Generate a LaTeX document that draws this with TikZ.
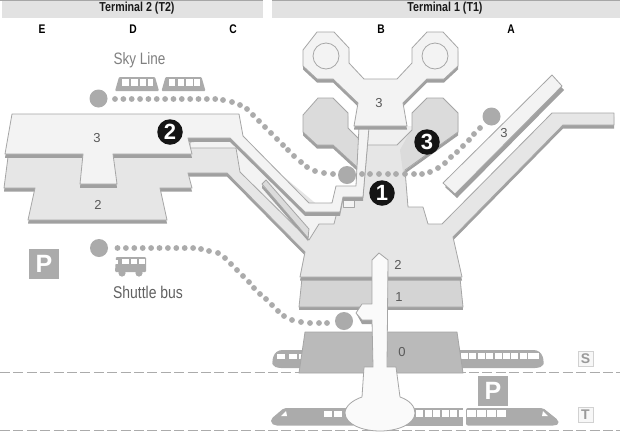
\documentclass[tikz,border=0pt]{standalone}
\usepackage{fontspec}
\setmainfont{Liberation Sans}
\newfontfamily\narrowf[FakeStretch=0.82]{Liberation Sans}
\definecolor{edgec}{HTML}{A6A6A6}
\definecolor{shadowc}{HTML}{A0A0A0}
\definecolor{dotc}{HTML}{ABABAB}
\definecolor{barc}{HTML}{E2E2E2}
\definecolor{lthree}{HTML}{F3F3F3}
\definecolor{ltwo}{HTML}{E6E6E6}
\definecolor{octc}{HTML}{DBDBDB}
\definecolor{lone}{HTML}{D4D4D4}
\definecolor{lzero}{HTML}{BABABA}
\definecolor{trainc}{HTML}{ABABAB}
\tikzset{
  edgeline/.style={draw=edgec,line width=0.8pt,line join=round},
  bar/.style={fill=barc,draw=none},
  gate/.style={font=\narrowf\bfseries\fontsize{12.5}{12.5}\selectfont,text=black,inner sep=0pt},
  head/.style={font=\narrowf\bfseries\fontsize{13}{13}\selectfont,text=black!90,inner sep=0pt},
  lvl/.style={font=\fontsize{13}{13}\selectfont,text=black!65,inner sep=0pt},
  badge/.style={circle,fill=black!92,text=white,minimum size=25.5pt,inner sep=0pt,font=\bfseries\fontsize{22}{22}\selectfont},
  stop/.style={circle,fill=dotc,minimum size=18pt,inner sep=0pt},
  parkbox/.style={fill=dotc,text=white,minimum size=30pt,inner sep=0pt,font=\bfseries\fontsize{25}{25}\selectfont},
  trackbox/.style={fill=black!3,draw=black!18,line width=0.8pt,text=black!40,minimum size=15pt,inner sep=0pt,font=\bfseries\fontsize{14}{14}\selectfont},
  trackline/.style={draw=dotc,line width=1pt,dash pattern=on 10pt off 3.4pt},
  win/.style={fill=white,draw=none},
}
\def\LevelThree{(12,114)--(239,114)--(243,136)--(309,203)--(332,203)--(336,186)--(356,186)--(359,127)--(369,127)--(363,197)--(343,197)--(340,212)--(305,212)--(230,138)--(188,138)--(192,154)--(113,154)--(117,184)--(80,184)--(83,154)--(5,154)--cycle}
\def\LevelTwo{(8,157)--(4,188)--(35,188)--(28,220)--(167,220)--(160,188)--(192,188)--(188,173)--(227,173)--(305,252)--(300,277)--(462,277)--(453,237)--(563,125)--(614,125)--(614,113)--(552,113)--(442,224)--(428,224)--(423,207)--(408,207)--(405,170)--(458,132)--(458,113)--(443,98)--(427,98)--(412,113)--(412,128)--(397,145)--(365,145)--(360,190)--(320,207)--(240,140)--(190,145)--cycle}
\def\OctLeft{(303,115)--(318,98)--(333,98)--(348,113)--(348,128)--(362,142)--(358,168)--(333,145)--(317,145)--(303,132)--cycle}
\def\TOne{(303,50)--(317,32)--(334,32)--(349,48)--(349,63)--(364,79)--(397,79)--(412,63)--(412,48)--(427,32)--(443,32)--(458,48)--(458,66)--(444,79)--(427,79)--(403,103)--(407,126)--(354,126)--(358,103)--(333,79)--(317,79)--(303,66)--cycle}
\def\PierA{(552,75)--(562,86)--(455,194)--(443,183)--cycle}
\begin{document}
\begin{tikzpicture}[x=1pt,y=-1pt]
\useasboundingbox (0,0) rectangle (620,437);
\fill[white] (0,0) rectangle (620,437);
% header
\fill[edgec] (0,0) rectangle (620,1.2);
\fill[white] (263,0) rectangle (272,1.2);
\fill[bar] (2,1.2) rectangle (263,18);
\fill[bar] (272,1.2) rectangle (620,18);
\node[head] (t2) at (137,8.5) {Terminal 2 (T2)};
\node[head] (t1) at (445,8.5) {Terminal 1 (T1)};
\node[gate] (gE) at (42,29.5) {E};
\node[gate] (gD) at (133,29.5) {D};
\node[gate] (gC) at (233,29.5) {C};
\node[gate] (gB) at (381,29.5) {B};
\node[gate] (gA) at (511,29.5) {A};
% track lines
\draw[trackline] (0,372) -- (620,372);
\draw[trackline] (0,430) -- (620,430);
% S trains
\fill[trainc,rounded corners=3pt] (310,350)--(279,350)--(274,354)--(272,362)--(273,366)--(278,368)--(310,368)--cycle;
\fill[win] (277,354) rectangle (285,359);
\fill[win] (289,354) rectangle (297,359);
\fill[win] (299,354) rectangle (304,359);
\fill[trainc,rounded corners=3pt] (450,350)--(537,350)--(542,354)--(544,362)--(543,366)--(538,368)--(450,368)--cycle;
\foreach \i in {0,...,8} \fill[win] ({461+8.4*\i},353) rectangle ({468+8.4*\i},359);
\fill[win] (532,353) rectangle (539,359);
% T trains
\fill[trainc,rounded corners=2pt] (355,408)--(284,408)--(271,419)--(271,423)--(275,425.5)--(355,425.5)--cycle;
\fill[win] (281,416)--(286,411)--(287,416)--cycle;
\fill[win] (324,411) rectangle (332,417);
\fill[win] (334,411) rectangle (342,417);
\fill[trainc] (405,408) rectangle (463,425.5);
\foreach \i in {0,...,5} \fill[win] ({416+8.6*\i},410) rectangle ({423+8.6*\i},417);
\fill[trainc,rounded corners=2pt] (466,408)--(543,408)--(558,420)--(559,424)--(555,425.5)--(466,425.5)--cycle;
\foreach \i in {0,...,3} \fill[win] ({467+10*\i},410) rectangle ({475.5+10*\i},417);
\fill[win] (542,416)--(543,411)--(548,416)--cycle;
% level 0
\path[fill=lzero,edgeline] (305,332)--(299,373)--(463,373)--(457,332)--cycle;
% level 1
\fill[shadowc] (299,306) rectangle (463,310);
\path[fill=lone,edgeline] (302,278)--(299,307)--(463,307)--(460,278)--cycle;
% left octagon of level 2
\fill[shadowc,shift={(0,3.5)}] \OctLeft;
\path[fill=octc,edgeline] \OctLeft;
% level 2 with its shadow
\fill[shadowc,shift={(0,3.5)}] \LevelTwo;
\fill[ltwo] \LevelTwo;
\fill[octc] (412,113)--(427,98)--(443,98)--(458,113)--(458,132)--(403,172)--(400,150)--(412,128)--cycle;
\path[fill=black!6,draw=none] (365,126)--(365,145)--(397,145)--(412,130)--(412,126)--cycle;
\draw[edgeline] (367,145)--(397,145)--(412,130)--(412,113)--(427,98)--(443,98)--(458,113)--(458,132)--(405,170)--(408,207)--(423,207)--(428,224)--(442,224)--(552,113)--(614,113)--(614,125)--(563,125)--(453,237)--(462,277);
\draw[edgeline] (8,157)--(4,188)--(35,188)--(28,220)--(167,220)--(160,188)--(192,188)--(188,173)--(227,173)--(305,252)--(300,277)--(462,277);
% lighter walkways below the level 3 corridor
\path[fill=lthree,edgeline] (190,142)--(190,148)--(236,148)--(240,172)--(309,240)--(319,224)--(334,224)--(337,212)--(305,212)--(230,138)--cycle;
\path[fill=lthree,edgeline] (343,196)--(343,207)--(354,207)--(354,196)--cycle;
\fill[shadowc] (262,185)--(309,233)--(308,241)--(262,188)--cycle;
\path[fill=octc,edgeline] (262,184)--(266,180)--(309,229)--(308,238)--cycle;
% level 3 buildings
\fill[shadowc,shift={(0,3.8)}] \LevelThree;
\path[fill=lthree,edgeline] \LevelThree;
\fill[shadowc,shift={(0,3.5)}] \TOne;
\path[fill=lthree,edgeline] \TOne;
\draw[edgeline,fill=none] (326,56) circle (13);
\draw[edgeline,fill=none] (435,56) circle (13);
\fill[shadowc,shift={(2,4)}] \PierA;
\path[fill=lthree,edgeline] \PierA;
% central white spine
\path[fill=shadowc] (362,304)--(356,313)--(362,324)--(372,324)--(372,304)--cycle;
\path[fill=white!98!black,edgeline] (379,253)--(388,260)--(387,367)--(396,367)--(400,397)
  .. controls (409,400) and (415,406) .. (415,413)
  .. controls (415,424) and (398,431) .. (380,431)
  .. controls (362,431) and (345,424) .. (345,413)
  .. controls (345,406) and (353,400) .. (362,397)
  --(364,367)--(373,367)--(372,320)--(362,320)--(356,313)--(362,304)--(372,304)--(372,260)--cycle;
% dotted routes
\foreach \i in {0,...,12} \fill[dotc] ({115+8.35*\i},99) circle (2.9);
\foreach \p in {(223,100),(232,102),(240,105),(247,109),(253,115),(259,121),(265,127),(271,133),(277,139),(283,145),(288,150),(294,156),(301,162),(307,167),(315,171),(324,173),(333,174),(362,174),(370,174),(379,174),(388,174),(396,174),(405,174),(414,174),(422,174),(430,172),(438,168),(445,163),(451,157),(457,152),(463,146),(469,140),(474,134),(480,128)} \fill[dotc] \p circle (2.9);
\foreach \i in {0,...,9} \fill[dotc] ({117.5+8.4*\i},248) circle (2.9);
\foreach \p in {(201,249),(209,251),(218,253),(225,258),(231,264),(237,270),(243,276),(249,282),(254,288),(260,294),(266,299),(272,305),(278,311),(284,316),(292,320),(301,322),(310,323),(319,323),(327,323)} \fill[dotc] \p circle (2.9);
% stops
\node[stop] (s1) at (98.5,98.5) {};
\node[stop] (s2) at (347,175) {};
\node[stop] (s3) at (491.5,116.5) {};
\node[stop] (s4) at (99,248) {};
\node[stop] (s5) at (344,321) {};
% Sky Line
\foreach \d in {0,46.5} {
 \begin{scope}[shift={(\d,0)}]
 \fill[trainc,rounded corners=1pt] (115,91)--(119,77)--(155,77)--(159,91)--cycle;
 \fill[win] (122,79) rectangle (128.5,86);
 \fill[win] (131,79) rectangle (137.5,86);
 \fill[win] (139.5,79) rectangle (146,86);
 \fill[win] (147.5,79) rectangle (153,86);
 \end{scope}}
\node[font=\narrowf\fontsize{16.5}{16.5}\selectfont,text=black!50,inner sep=0pt] (sky) at (139.5,60.5) {Sky Line};
% Shuttle bus
\fill[trainc,rounded corners=1pt] (116,257)--(146,257)--(146,272)--(115,272)--cycle;
\fill[win] (122,258.5) rectangle (129,264);
\fill[win] (131,258.5) rectangle (137,264);
\fill[win] (139,258.5) rectangle (145,264);
\fill[white] (115,260) rectangle (118,264);
\fill[trainc] (122,273) circle (3.6);
\fill[trainc] (139,273) circle (3.6);
\node[font=\narrowf\fontsize{17}{17}\selectfont,text=black!62,inner sep=0pt] (bus) at (148,292) {Shuttle bus};
% parking and track boxes
\node[parkbox] (p1) at (44,264) {P};
\node[parkbox] (p2) at (493,391) {P};
\node[trackbox] (bs) at (585.5,358.5) {S};
\node[trackbox] (bt) at (585.5,414.5) {T};
% level numbers
\node[lvl] (n1) at (97,138) {3};
\node[lvl] (n2) at (98,205) {2};
\node[lvl] (n3) at (379,103) {3};
\node[lvl] (n4) at (504,133) {3};
\node[lvl] (n5) at (398,265) {2};
\node[lvl] (n6) at (399,297) {1};
\node[lvl] (n7) at (402,352) {0};
% badges
\node[badge] (b2) at (170,132) {2};
\node[badge] (b1) at (382,193) {1};
\node[badge] (b3) at (427,142) {3};
\end{tikzpicture}
\end{document}
